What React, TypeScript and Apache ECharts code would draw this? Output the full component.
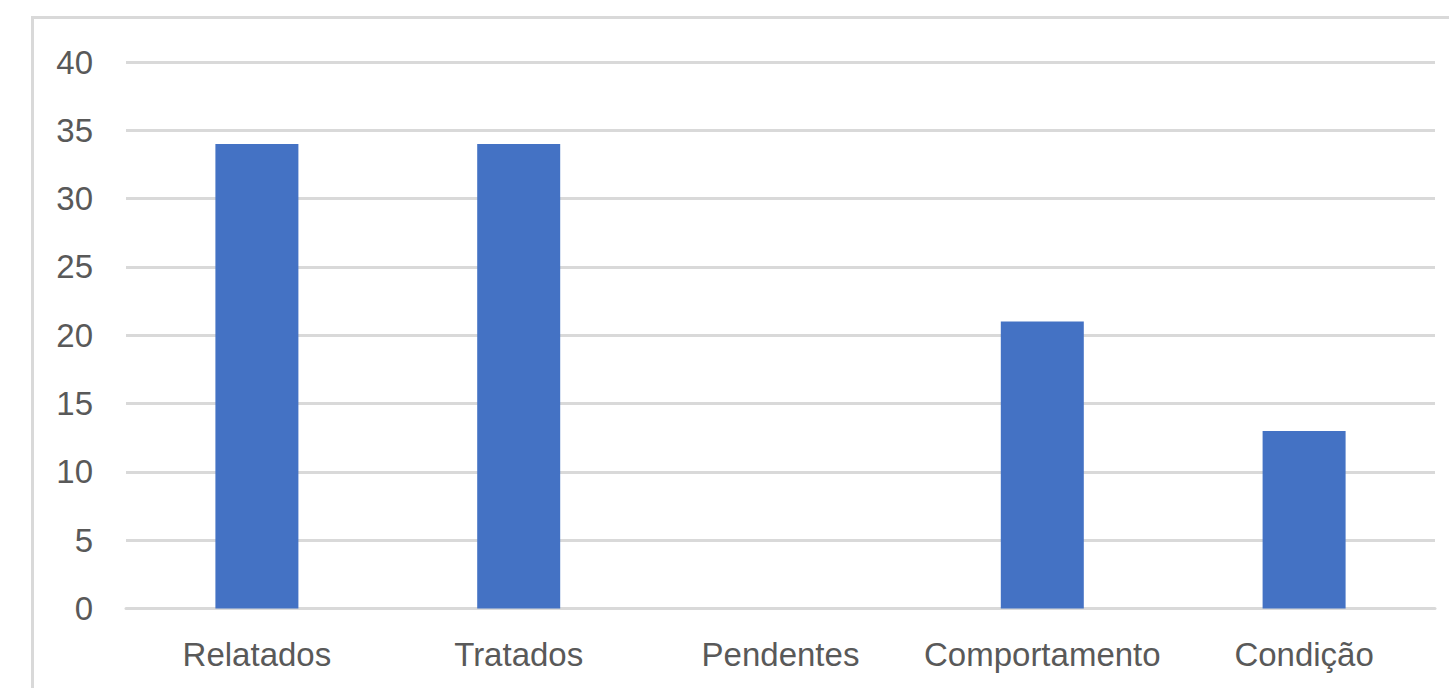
import React, { useEffect, useRef } from "react";
import * as echarts from "echarts";

const categories = ["Relatados", "Tratados", "Pendentes", "Comportamento", "Condição"];
const values = [34, 34, 0, 21, 13];
const yMin = 0;
const yMax = 40;
const yInterval = 5;

export default function App() {
  const ref = useRef<HTMLDivElement>(null);
  useEffect(() => {
    if (!ref.current) return;
    const chart = echarts.init(ref.current, undefined, { renderer: "svg" });
    const font = "'Liberation Sans', Arial, sans-serif";
    chart.setOption({
      animation: false,
      backgroundColor: "#ffffff",
      graphic: [
        {
          type: "rect",
          shape: { x: 32.5, y: 17.5, width: 1500, height: 800 },
          style: { fill: "none", stroke: "#d9d9d9", lineWidth: 3 },
          silent: true,
        },
      ],
      grid: { left: 126, right: 14, top: 62, bottom: 79.5, containLabel: false },
      xAxis: {
        type: "category",
        data: categories,
        axisLine: { show: true, lineStyle: { color: "#d9d9d9", width: 3 } },
        axisTick: { show: false },
        axisLabel: {
          color: "#595959",
          fontSize: 33,
          fontFamily: font,
          margin: 29,
          interval: 0,
        },
      },
      yAxis: {
        type: "value",
        min: yMin,
        max: yMax,
        interval: yInterval,
        axisLine: { show: false },
        axisTick: { show: false },
        splitLine: { lineStyle: { color: "#d9d9d9", width: 3 } },
        axisLabel: {
          color: "#595959",
          fontSize: 33,
          fontFamily: font,
          margin: 33,
          padding: [0, 0, 8, 0],
        },
      },
      series: [
        {
          type: "bar",
          data: values,
          barWidth: 83,
          itemStyle: { color: "#4472C4" },
        },
      ],
    });
    return () => chart.dispose();
  }, []);
  return (
    <div
      ref={ref}
      style={{ position: "fixed", left: 0, top: 0, width: 1449, height: 688 }}
    />
  );
}
